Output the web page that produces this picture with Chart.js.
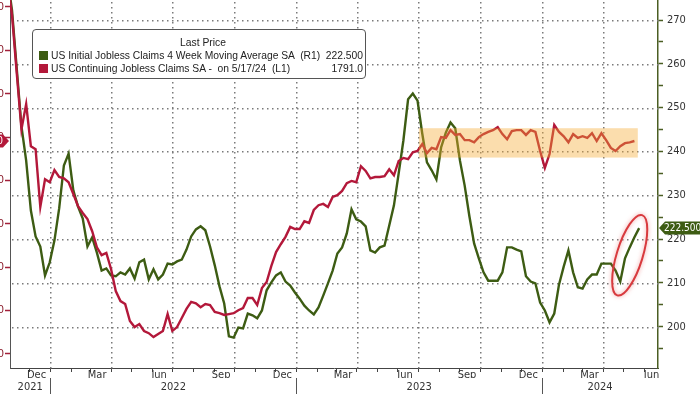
<!DOCTYPE html>
<html>
<head>
<meta charset="utf-8">
<script src="https://cdn.jsdelivr.net/npm/chart.js@4.4.1/dist/chart.umd.min.js"></script>
<style>
  html, body { margin: 0; padding: 0; background: #fff; }
  #wrap { position: relative; width: 700px; height: 394px; overflow: hidden; }
  #chart { position: absolute; left: -40px; top: 0; }
  #legend { position: absolute; left: 32px; top: 29px; width: 334px; height: 50px; box-sizing: border-box;
    border: 1px solid #555; border-radius: 4px; background: #fff;
    font-family: "Liberation Sans", Arial, sans-serif; font-size: 10.3px; color: #222; }
  #legend .title { position: absolute; left: 0; right: 0; top: 6px; line-height: 13px; text-align: center; padding-left: 8px; }
  #legend .row { position: absolute; left: 0; right: 0; height: 13px; line-height: 13px; white-space: pre; }
  #legend .sw { position: absolute; left: 6px; top: 2px; width: 9px; height: 9px; }
  #legend .name { position: absolute; left: 18px; }
  #legend .val { position: absolute; right: 2px; }
</style>
</head>
<body>
<div id="wrap">
  <canvas id="chart" width="740" height="394"></canvas>
  <div id="legend"></div>
</div>
<script>
// weekly observations, first one on this date
const weekStart = '2021-10-29';

// US Initial Jobless Claims 4wk MA SA (thousands), right axis
const initialClaims4wk = [
  280.0,
  272.2, 258.9, 245.7, 237.9, 226.5, 220.6, 218.3, 211.7, 214.7, 219.7,
  227.0, 236.8, 239.5, 231.1, 227.4, 224.7, 218.3, 220.4, 216.9, 212.8,
  213.3, 211.7, 211.5, 212.4, 211.9, 213.3, 211.0, 214.7, 215.3, 210.8,
  213.1, 210.8, 211.9, 214.4, 214.2, 214.9, 215.3, 217.6, 220.6, 222.2,
  222.9, 222.0, 218.3, 214.0, 209.2, 205.3, 197.8, 197.5, 199.8, 199.6,
  203.0, 202.6, 201.9, 203.7, 208.3, 210.1, 211.7, 212.4, 210.3, 209.4,
  207.8, 206.4, 204.8, 203.7, 202.8, 204.4, 207.1, 209.9, 212.8, 216.7,
  218.1, 221.3, 226.8, 224.5, 224.0, 222.9, 217.4, 216.9, 218.1, 218.5,
  223.1, 227.7, 235.0, 242.5, 251.9, 253.2, 251.6, 244.1, 237.5, 235.7,
  233.6, 240.9, 244.3, 246.6, 245.3, 237.9, 232.2, 225.2, 219.0, 215.6,
  212.4, 210.5, 210.5, 210.5, 212.4, 218.1, 218.1, 217.6, 217.2, 211.5,
  210.3, 209.9, 205.5, 203.7, 201.0, 203.0, 209.6, 213.7, 217.4, 212.4,
  209.0, 208.7, 210.8, 211.9, 211.9, 214.4, 214.4, 214.4, 212.8, 210.3,
  215.6, 218.1, 220.4, 222.5
];

// US Continuing Jobless Claims SA (thousands), left axis
const continuingClaims = [
  2160,
  2081, 1948, 1818, 1876, 1779, 1772, 1639, 1703, 1696, 1724,
  1708, 1705, 1696, 1669, 1641, 1625, 1611, 1583, 1546, 1528,
  1533, 1496, 1445, 1422, 1415, 1376, 1362, 1369, 1353, 1348,
  1339, 1346, 1353, 1392, 1353, 1362, 1383, 1404, 1420, 1417,
  1408, 1415, 1413, 1397, 1394, 1390, 1392, 1394, 1401, 1406,
  1429, 1429, 1413, 1452, 1466, 1503, 1535, 1553, 1570, 1593,
  1588, 1588, 1606, 1602, 1632, 1643, 1646, 1639, 1662, 1666,
  1676, 1694, 1699, 1696, 1733, 1722, 1705, 1708, 1708, 1710,
  1726, 1712, 1745, 1752, 1749, 1765, 1768, 1784, 1763, 1775,
  1772, 1800, 1798, 1816, 1805, 1807, 1793, 1793, 1788, 1800,
  1807, 1812, 1816, 1823, 1807, 1795, 1814, 1816, 1816, 1805,
  1816, 1812, 1768, 1729, 1761, 1828, 1812, 1802, 1788, 1807,
  1798, 1802, 1798, 1809, 1791, 1809, 1793, 1775, 1768, 1779,
  1786, 1788, 1791
];

const seriesNames = ['US Initial Jobless Claims 4 Week Moving Average SA  (R1)', 'US Continuing Jobless Claims SA -  on 5/17/24  (L1)'];
const monthLabels = ['Jan', 'Feb', 'Mar', 'Apr', 'May', 'Jun', 'Jul', 'Aug', 'Sep', 'Oct', 'Nov', 'Dec'];
const labelMonths = [11, 2, 5, 8];   // Dec, Mar, Jun, Sep
const gridMonths = [0, 3, 6, 9];     // quarter starts
const yearLabels = ['2021', '2022', '2023', '2024'];
const rightTicks = [195, 200, 205, 210, 215, 220, 225, 230, 235, 240, 245, 250, 255, 260, 265, 270];
const leftTicks = [1300, 1400, 1500, 1600, 1700, 1800, 1900, 2000, 2100];
const axisStart = '2021-11-02', axisEnd = '2024-06-21';

// shaded band (right-axis units) and circled move
const band = { from: '2023-07-02', to: '2024-05-22', low: 238.6, high: 245.3 };
const circled = { date: '2024-05-10', value: 216.3 };

const GREEN = '#3d5c13', RED = '#b3183a';
const GRID = '#7a7a7a';
const AXIS_FONT = '"Liberation Sans Narrow", "DejaVu Sans Condensed", "Liberation Sans", Arial, sans-serif';

const baseDay = Date.UTC(2022, 0, 1);
const dayOf = s => (Date.parse(s) - baseDay) / 864e5;
const monthOf = v => new Date(baseDay + v * 864e5).getUTCMonth();
const weekX = i => dayOf(weekStart) + 7 * i;

function noPad(s) { s.paddingTop = 0; s.paddingBottom = 0; s.paddingLeft = 0; s.paddingRight = 0; }

function monthTicks(scale) {
  const out = [];
  for (let y = 2021; y <= 2024; y++) {
    for (let m = 0; m < 12; m++) {
      const d = (Date.UTC(y, m, 1) - baseDay) / 864e5;
      if (d >= scale.min && d <= scale.max) out.push({ value: d });
    }
  }
  scale.ticks = out;
}

function yearTicks(scale) {
  const out = [];
  yearLabels.forEach(y => {
    const s = dayOf(y + '-01-01'), e = dayOf((+y + 1) + '-01-01');
    const a = Math.max(s, scale.min), b = Math.min(e, scale.max);
    out.push({ value: (a + b) / 2, year: y });
    if (s > scale.min) out.push({ value: s, sep: true });
  });
  out.sort((p, q) => p.value - q.value);
  scale.ticks = out;
}

// legend box
const legendEl = document.getElementById('legend');
legendEl.innerHTML =
  '<div class="title">Last Price</div>' +
  '<div class="row" style="top:19px"><span class="sw" style="background:' + GREEN + '"></span><span class="name">' + seriesNames[0] +
  '</span><span class="val">' + initialClaims4wk[initialClaims4wk.length - 1].toFixed(3) + '</span></div>' +
  '<div class="row" style="top:32px"><span class="sw" style="background:' + RED + '"></span><span class="name">' + seriesNames[1] +
  '</span><span class="val">' + continuingClaims[continuingClaims.length - 1].toFixed(1) + '</span></div>';

// dotted grid: vertical at quarter starts, horizontal at right-axis majors
const gridPlugin = {
  id: 'dotGrid',
  beforeDatasetsDraw(chart) {
    const { ctx, chartArea: a } = chart, x = chart.scales.x, y = chart.scales.y1;
    ctx.save();
    ctx.fillStyle = GRID;
    x.ticks.forEach(t => {
      if (!gridMonths.includes(monthOf(t.value))) return;
      const px = Math.round(x.getPixelForValue(t.value));
      for (let py = a.top + 2; py < a.bottom; py += 5) ctx.fillRect(px, py, 1.5, 1.5);
    });
    y.ticks.forEach(t => {
      if (t.value % 10 !== 0) return;
      const py = Math.round(y.getPixelForValue(t.value));
      for (let px = a.left + 2; px < a.right; px += 5) ctx.fillRect(px, py, 1.5, 1.5);
    });
    ctx.restore();
  }
};

const bandPlugin = {
  id: 'band',
  afterDatasetsDraw(chart) {
    const { ctx } = chart, x = chart.scales.x, y = chart.scales.y1;
    const x0 = x.getPixelForValue(dayOf(band.from)), x1 = x.getPixelForValue(dayOf(band.to));
    const y0 = y.getPixelForValue(band.high), y1 = y.getPixelForValue(band.low);
    ctx.save();
    ctx.fillStyle = 'rgba(245,170,50,0.4)';
    ctx.fillRect(x0, y0, x1 - x0, y1 - y0);
    // red ring round the latest move
    const cx = x.getPixelForValue(dayOf(circled.date)), cy = y.getPixelForValue(circled.value);
    ctx.beginPath();
    ctx.ellipse(cx, cy, 13, 42, 0.3, 0, Math.PI * 2);
    ctx.strokeStyle = '#d83a3e';
    ctx.lineWidth = 2;
    ctx.shadowColor = 'rgba(230,90,90,0.6)';
    ctx.shadowBlur = 4;
    ctx.stroke();
    ctx.restore();
  }
};

const tagPlugin = {
  id: 'tags',
  afterDraw(chart) {
    const { ctx } = chart;
    const r = chart.scales.y1, l = chart.scales.y;
    ctx.save();
    ctx.font = '10px ' + AXIS_FONT;
    ctx.textBaseline = 'middle';
    // right tag: last initial claims value
    let v = initialClaims4wk[initialClaims4wk.length - 1];
    let py = r.getPixelForValue(v), tip = r.left + 1;
    ctx.fillStyle = GREEN;
    ctx.beginPath();
    ctx.moveTo(tip, py);
    ctx.lineTo(tip + 6, py - 6.5);
    ctx.lineTo(chart.width, py - 6.5);
    ctx.lineTo(chart.width, py + 6.5);
    ctx.lineTo(tip + 6, py + 6.5);
    ctx.closePath();
    ctx.fill();
    ctx.fillStyle = '#fff';
    ctx.textAlign = 'left';
    ctx.fillText(v.toFixed(3), tip + 5, py + 0.5);
    // left tag: last continuing claims value
    v = continuingClaims[continuingClaims.length - 1];
    py = l.getPixelForValue(v); tip = l.right - 1;
    ctx.fillStyle = RED;
    ctx.beginPath();
    ctx.moveTo(tip, py);
    ctx.lineTo(tip - 6, py - 6.5);
    ctx.lineTo(0, py - 6.5);
    ctx.lineTo(0, py + 6.5);
    ctx.lineTo(tip - 6, py + 6.5);
    ctx.closePath();
    ctx.fill();
    ctx.fillStyle = '#fff';
    ctx.textAlign = 'right';
    ctx.fillText(v.toFixed(1), tip - 6, py + 0.5);
    ctx.restore();
  }
};

new Chart(document.getElementById('chart'), {
  type: 'line',
  data: {
    datasets: [
      {
        label: seriesNames[1],
        data: continuingClaims.map((v, i) => ({ x: weekX(i), y: v })),
        borderColor: RED, borderWidth: 2.4, pointRadius: 0, tension: 0,
        xAxisID: 'x', yAxisID: 'y'
      },
      {
        label: seriesNames[0],
        data: initialClaims4wk.map((v, i) => ({ x: weekX(i), y: v })),
        borderColor: GREEN, borderWidth: 2.4, pointRadius: 0, tension: 0,
        xAxisID: 'x', yAxisID: 'y1'
      }
    ]
  },
  options: {
    responsive: false,
    animation: false,
    devicePixelRatio: 1,
    layout: { padding: 0 },
    plugins: { legend: { display: false }, tooltip: { enabled: false } },
    scales: {
      x: {
        type: 'linear', position: 'bottom', weight: 1,
        min: dayOf(axisStart), max: dayOf(axisEnd),
        afterBuildTicks: monthTicks,
        afterFit: s => { s.height = 10; noPad(s); },
        ticks: {
          autoSkip: false, maxRotation: 0, minRotation: 0, labelOffset: 7, padding: -3,
          color: '#333', font: { family: AXIS_FONT, size: 11 },
          callback: v => labelMonths.includes(monthOf(v)) ? monthLabels[monthOf(v)] : ''
        },
        grid: { drawOnChartArea: false, tickColor: '#444', tickLength: 4, tickWidth: 1 },
        border: { color: '#444', width: 1 }
      },
      x2: {
        type: 'linear', position: 'bottom', weight: 2,
        min: dayOf(axisStart), max: dayOf(axisEnd),
        afterBuildTicks: yearTicks,
        afterFit: s => { s.height = 16; noPad(s); },
        ticks: {
          autoSkip: false, maxRotation: 0, minRotation: 0, padding: -13,
          color: '#333', font: { family: AXIS_FONT, size: 11 },
          callback: (v, i, ticks) => ticks[i].year || ''
        },
        grid: {
          drawOnChartArea: false,
          tickColor: c => c.tick && c.tick.sep ? '#555' : 'transparent',
          tickLength: 16, lineWidth: 1
        },
        border: { display: false }
      },
      y: {
        position: 'left', min: 1267.7, max: 2116.1,
        afterBuildTicks: s => { s.ticks = leftTicks.map(v => ({ value: v })); },
        afterFit: s => { s.width = 50; noPad(s); },
        ticks: { color: '#8a1c2c', padding: 1, font: { family: AXIS_FONT, size: 11 } },
        grid: { drawOnChartArea: false, tickColor: '#a3203a', tickLength: 5, tickWidth: 1.5 },
        border: { color: '#555', width: 1 }
      },
      y1: {
        position: 'right', min: 190.57, max: 274.565,
        afterBuildTicks: s => { s.ticks = rightTicks.map(v => ({ value: v })); },
        afterFit: s => { s.width = 42; noPad(s); },
        ticks: {
          color: '#333', padding: 4, font: { family: AXIS_FONT, size: 11 },
          callback: v => v % 10 === 0 ? String(v) : ''
        },
        grid: { drawOnChartArea: false, tickColor: '#4b5e23', tickLength: 5, tickWidth: 1.5 },
        border: { color: '#4b5e23', width: 1.5 }
      }
    }
  },
  plugins: [gridPlugin, bandPlugin, tagPlugin]
});
</script>
</body>
</html>
